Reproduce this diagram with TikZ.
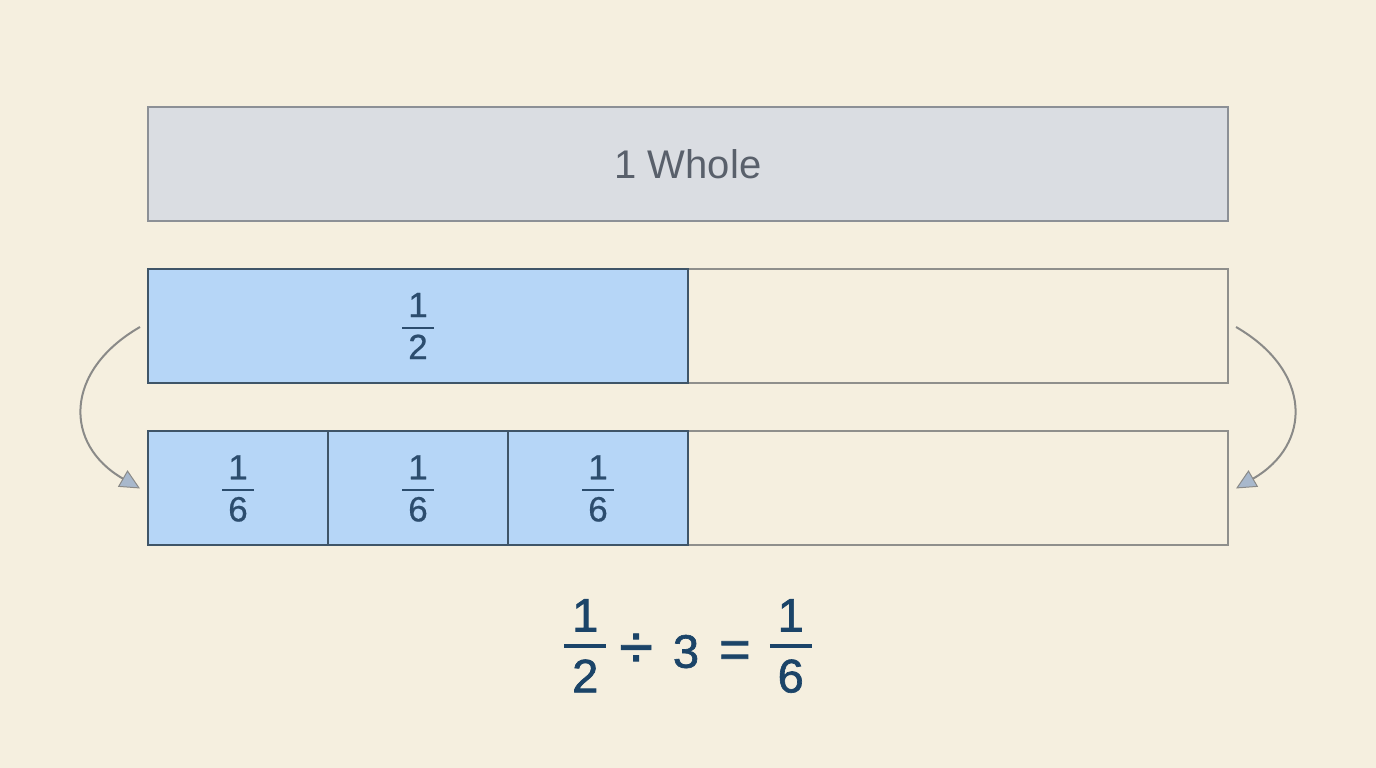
\documentclass[tikz,border=0pt]{standalone}
\usepackage{amsmath}
\usepackage{fontspec}
\setmainfont{Liberation Sans}
\newfontfamily\eqfont[FakeBold=1.4]{Liberation Sans}
\newfontfamily\partfont[FakeBold=0.6]{Liberation Sans}
\usepackage{tikz}
\usepackage{xcolor}
\usetikzlibrary{positioning,arrows.meta}
\definecolor{paper}{HTML}{F5EFDF}
\definecolor{wholefill}{HTML}{DADDE2}
\definecolor{wholeline}{HTML}{8C9096}
\definecolor{wholetext}{HTML}{59606B}
\definecolor{partfill}{HTML}{B6D6F7}
\definecolor{partline}{HTML}{3F5568}
\definecolor{parttext}{HTML}{2C4D6E}
\definecolor{restline}{HTML}{8F8F8C}
\definecolor{eqtext}{HTML}{1B4468}
\definecolor{arrowline}{HTML}{8A8A88}
\definecolor{arrowhead}{HTML}{A8B8CC}
\newcommand{\boxfrac}[2]{$\genfrac{}{}{2pt}{0}{\text{\,#1\,}}{\text{\,#2\,}}$}
\newcommand{\eqfrac}[2]{\genfrac{}{}{4pt}{0}{\text{\,#1\,}}{\text{\,#2\,}}}
\tikzstyle{wholebox} = [rectangle, draw=wholeline, fill=wholefill, line width=2pt, outer sep=0pt, minimum width=1080pt, minimum height=114pt, text=wholetext, font=\fontsize{40}{48}\selectfont]
\tikzstyle{partbox} = [rectangle, draw=partline, fill=partfill, line width=2pt, outer sep=0pt, minimum height=114pt, text=parttext, font=\partfont\fontsize{35}{42}\selectfont]
\tikzstyle{restbox} = [rectangle, draw=restline, line width=2pt, outer sep=0pt, minimum width=540pt, minimum height=114pt]
\tikzstyle{turn} = [draw=arrowline, line width=2pt, looseness=1.4, -{Triangle[length=20pt,width=19pt,fill=arrowhead,line width=1pt]}]

\begin{document}
\begin{tikzpicture}[x=1pt,y=1pt]
  \fill[paper] (0,0) rectangle (1376,768);
  \useasboundingbox (0,0) rectangle (1376,768);

  \node[wholebox] (whole) at (688,604) {1 Whole};

  \node[restbox] (half_rest) at (958,442) {};
  \node[partbox, minimum width=540pt] (half) [left=0pt of half_rest] {\boxfrac{1}{2}};

  \node[restbox] (sixth_rest) at (958,279.5) {};
  \node[partbox, minimum width=180pt] (sixth_c) [left=0pt of sixth_rest] {\boxfrac{1}{6}};
  \node[partbox, minimum width=180pt] (sixth_b) [left=0pt of sixth_c] {\boxfrac{1}{6}};
  \node[partbox, minimum width=180pt] (sixth_a) [left=0pt of sixth_b] {\boxfrac{1}{6}};

  \node[text=eqtext, font=\eqfont\fontsize{47}{56}\selectfont] (equation) at (688,122)
    {$\eqfrac{1}{2}\raisebox{-16pt}{\text{\hspace{12pt}\scalebox{1.3}{÷}\hspace{20pt}3\hspace{20pt}\scalebox{1.15}{=}\hspace{18pt}}}\eqfrac{1}{6}$};

  \draw[turn] ([xshift=-8pt,yshift=-1pt]half.west) to[out=210, in=150] ([xshift=-8pt]sixth_a.west);
  \draw[turn] ([xshift=8pt,yshift=-1pt]half_rest.east) to[out=-30, in=30] ([xshift=8pt]sixth_rest.east);
\end{tikzpicture}
\end{document}
